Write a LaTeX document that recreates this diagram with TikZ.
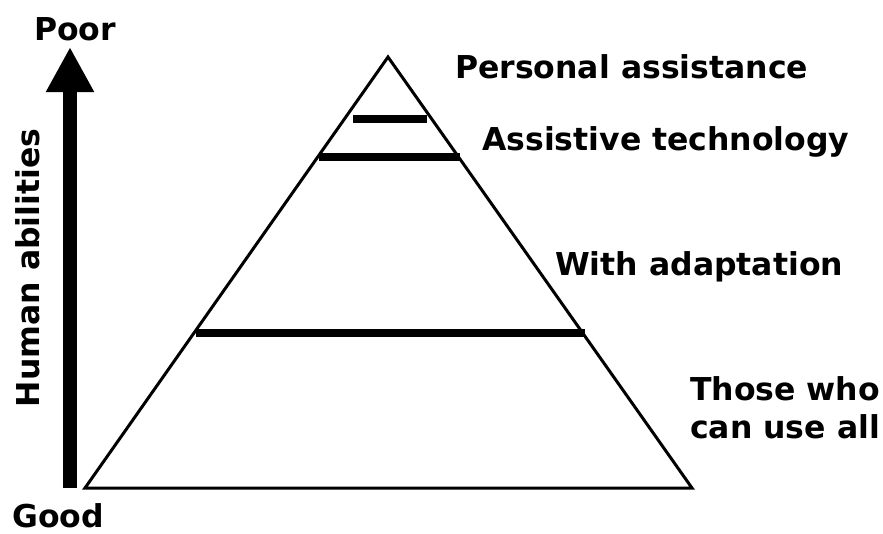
\documentclass[tikz,border=0pt]{standalone}
\usepackage{fontspec}
\setmainfont{DejaVu Sans}
\usetikzlibrary{arrows.meta}
\tikzset{
  every node/.style={inner sep=0pt, font=\fontsize{31.5}{38}\selectfont\bfseries},
  tier/.style={line width=8pt},
}

\begin{document}
\begin{tikzpicture}[x=1pt,y=-1pt]
  \useasboundingbox (0,0) rectangle (883,533);

  % pyramid
  \coordinate (top) at (388,57);
  \coordinate (bl) at (85,488);
  \coordinate (br) at (692,488);
  \draw[line width=3pt] (top) -- (br) -- (bl) -- cycle;

  % tiers
  \draw[tier] (353,119) -- (427,119);
  \draw[tier] (319,157) -- (460,157);
  \draw[tier] (196,333) -- (585,333);

  % scale
  \coordinate (low) at (70,488);
  \coordinate (high) at (70,47);
  \draw[line width=14pt, -{Triangle[width=45pt,length=45pt]}] (low) -- (high);

  \node[anchor=base] (poor) at (75,40) {Poor};
  \node[anchor=base west] (good) at (12,527) {Good};
  \node[rotate=90] (abil) at (28,268) {Human abilities};

  \node[anchor=base west] (pa) at (455,78) {Personal assistance};
  \node[anchor=base west] (at) at (482,150) {Assistive technology};
  \node[anchor=base west] (wa) at (555,275) {With adaptation};
  \node[anchor=base west, align=left] (all) at (690,438) {Those who\\can use all};
\end{tikzpicture}
\end{document}
